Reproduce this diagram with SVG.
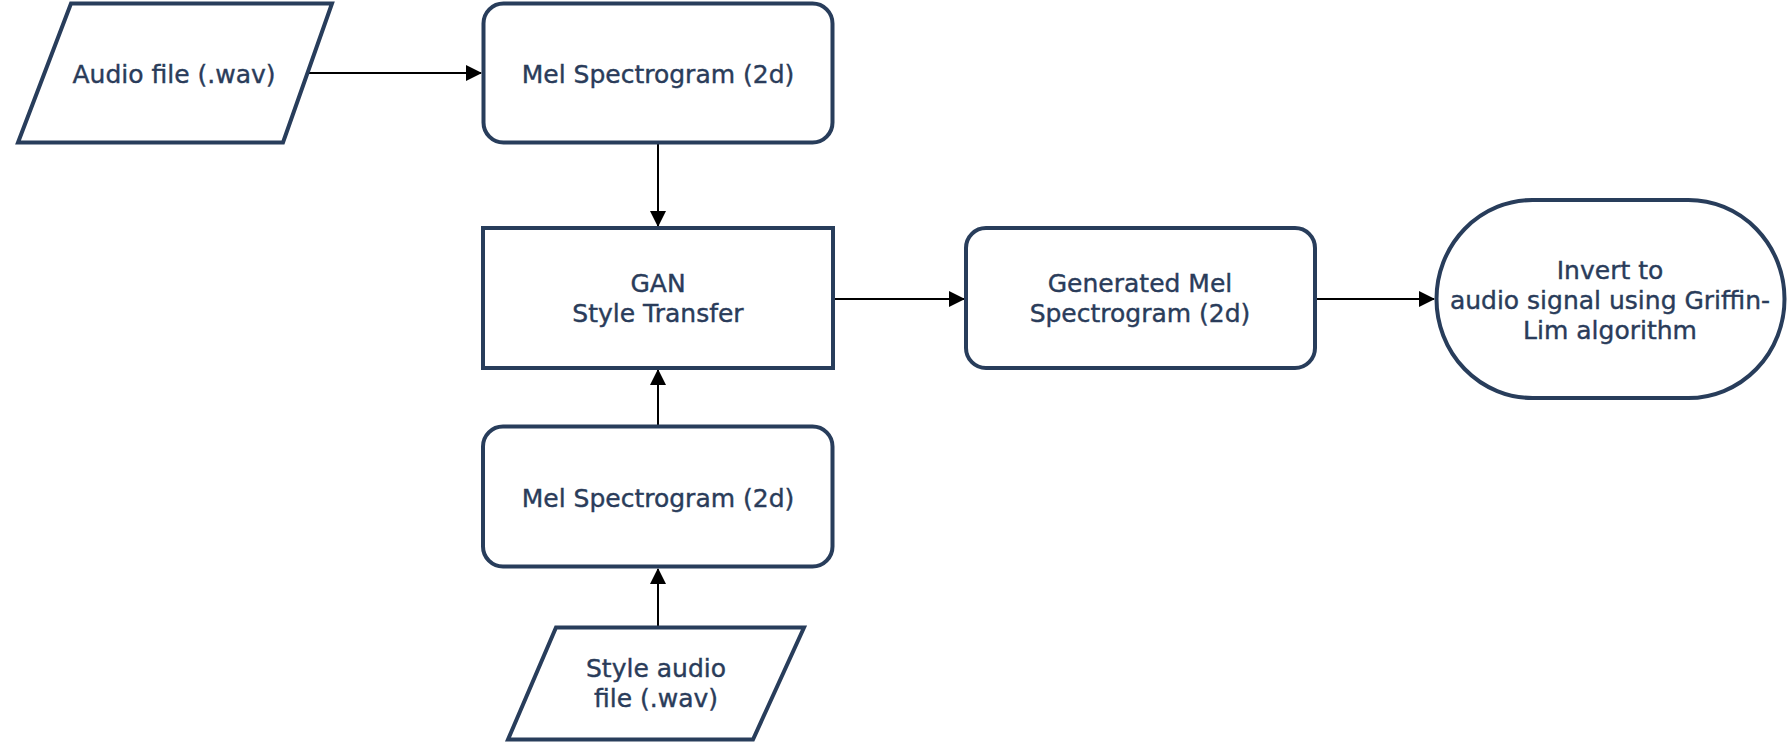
<svg xmlns="http://www.w3.org/2000/svg" width="1788" height="742" viewBox="0 0 1788 742">
<style>
.shape{fill:#ffffff;stroke:#283d5b;stroke-width:4}
.lbl{font-family:"DejaVu Sans",sans-serif;font-size:25px;fill:#2a3c5a;stroke:#2a3c5a;stroke-width:0.4;text-anchor:middle}
.conn{stroke:#000000;stroke-width:2;fill:none;marker-end:url(#arrow)}
</style>
<defs>
<marker id="arrow" viewBox="0 0 16 16" refX="15" refY="8" markerWidth="16" markerHeight="16" markerUnits="userSpaceOnUse" orient="auto">
<path d="M0,0 L16,8 L0,16 Z" fill="#000000"/>
</marker>
</defs>
<rect width="1788" height="742" fill="#ffffff"/>
<g id="connectors">
<line class="conn" x1="307" y1="73" x2="481" y2="73"/>
<line class="conn" x1="658" y1="144" x2="658" y2="226"/>
<line class="conn" x1="658" y1="626" x2="658" y2="569"/>
<line class="conn" x1="658" y1="425" x2="658" y2="370"/>
<line class="conn" x1="835" y1="299" x2="964" y2="299"/>
<line class="conn" x1="1317" y1="299" x2="1434" y2="299"/>
</g>
<g id="audio-file">
<polygon class="shape" points="71,3.5 332,3.5 283,142.5 18,142.5"/>
<text class="lbl" x="174" y="83">Audio file (.wav)</text>
</g>
<g id="mel-1">
<rect class="shape" x="483.5" y="3.5" width="349" height="139" rx="20"/>
<text class="lbl" x="658" y="83">Mel Spectrogram (2d)</text>
</g>
<g id="gan">
<rect class="shape" x="483" y="228" width="350" height="140"/>
<text class="lbl" x="658" y="292">GAN</text>
<text class="lbl" x="658" y="322">Style Transfer</text>
</g>
<g id="mel-2">
<rect class="shape" x="483" y="426.5" width="349.5" height="140" rx="20"/>
<text class="lbl" x="658" y="507">Mel Spectrogram (2d)</text>
</g>
<g id="style-audio">
<polygon class="shape" points="556,627.5 804,627.5 753,739.5 508,739.5"/>
<text class="lbl" x="656" y="677">Style audio</text>
<text class="lbl" x="656" y="707">file (.wav)</text>
</g>
<g id="generated-mel">
<rect class="shape" x="966" y="228" width="349" height="140" rx="20"/>
<text class="lbl" x="1140" y="292">Generated Mel</text>
<text class="lbl" x="1140" y="322">Spectrogram (2d)</text>
</g>
<g id="invert">
<rect class="shape" x="1436.5" y="200" width="348" height="198" rx="96" ry="99"/>
<text class="lbl" x="1610" y="279">Invert to</text>
<text class="lbl" x="1610" y="309">audio signal using Griffin-</text>
<text class="lbl" x="1610" y="339">Lim algorithm</text>
</g>
</svg>
